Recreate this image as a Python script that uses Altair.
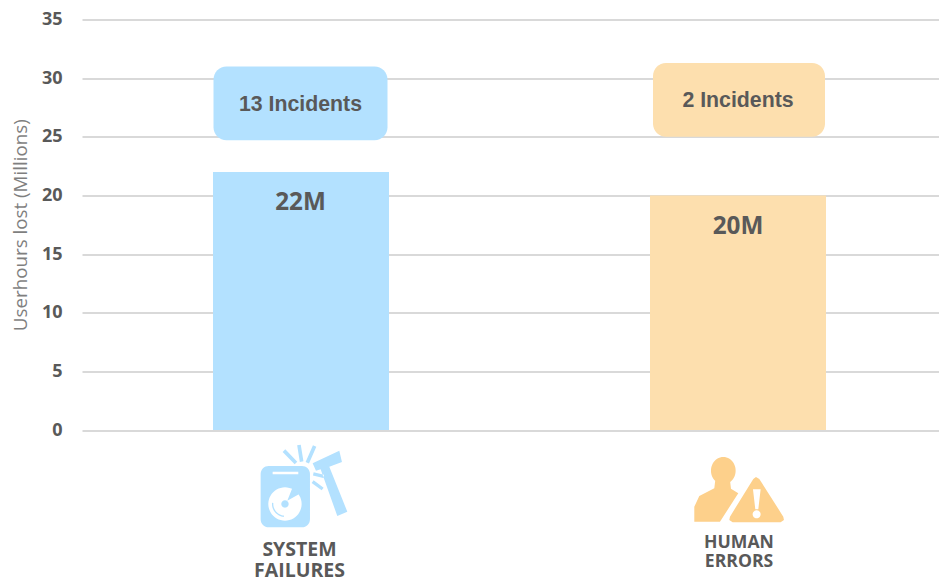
import math
import altair as alt
import pandas as pd

# ---- values ----
categories = ["System Failures", "Human Errors"]
userhours = [22, 20]
bar_start = [131, 568]
bar_end = [307, 744]
bar_colors = ["#b3e1ff", "#fddfae"]
bar_labels = ["22M", "20M"]
bar_label_x = [218.5, 656]
bar_label_y = [19.35, 17.35]

incident_labels = ["13 Incidents", "2 Incidents"]
incident_x = [218.5, 656]
incident_y = [27.67, 28.02]
box_start = [131.5, 571]
box_end = [305.5, 743]
box_low = [24.7, 25.0]
box_high = [31.0, 31.3]

caption_lines = ["SYSTEM", "FAILURES", "HUMAN", "ERRORS"]
caption_x = [217.5, 217.5, 657, 657]
caption_y = [-10.24, -12.03, -9.64, -11.26]
caption_sizes = [19.5, 19.5, 17.6, 17.6]

y_ticks = [0, 5, 10, 15, 20, 25, 30, 35]
x_total = 857
icon_x = [221.3, 661.3]
icon_y = [-4.83, -4.83]


# ---- icon outlines (shape only, in units of the symbol box) ----
def norm(pts):
    return [((x - 220) / 150, (y - 170) / 150) for x, y in pts]


def poly(pts):
    n = norm(pts)
    return "M" + "L".join(f"{x:.4f},{y:.4f}" for x, y in n) + "Z"


def ellipse(cx, cy, rx, ry, a0=0, a1=360, steps=48):
    return [(cx + rx * math.cos(math.radians(a0 + (a1 - a0) * i / steps)),
             cy + ry * math.sin(math.radians(a0 + (a1 - a0) * i / steps))) for i in range(steps + 1)]


def stroke(x0, y0, x1, y1, w):
    dx, dy = x1 - x0, y1 - y0
    d = math.hypot(dx, dy)
    nx, ny = -dy / d * w / 2, dx / d * w / 2
    return [(x0 + nx, y0 + ny), (x1 + nx, y1 + ny), (x1 - nx, y1 - ny), (x0 - nx, y0 - ny)]


def rrect(x0, y0, x1, y1, r):
    p = []
    p += ellipse(x1 - r, y0 + r, r, r, -90, 0, 8)
    p += ellipse(x1 - r, y1 - r, r, r, 0, 90, 8)
    p += ellipse(x0 + r, y1 - r, r, r, 90, 180, 8)
    p += ellipse(x0 + r, y0 + r, r, r, 180, 270, 8)
    return p


def arc_band(cx, cy, r0, r1, a0, a1):
    return ellipse(cx, cy, r1, r1, a0, a1, 16) + ellipse(cx, cy, r0, r0, a1, a0, 16)


hammer = [(248, 100), (328, 62), (336, 96), (298, 110), (352, 245), (322, 258), (272, 118), (258, 122)]
system_base = "".join([
    poly(rrect(92, 108, 240, 292, 24)),
    poly(hammer),
    poly(stroke(162, 62, 198, 99, 11)),
    poly(stroke(207, 45, 215, 95, 11)),
    poly(stroke(254, 48, 232, 98, 11)),
    poly(stroke(250, 132, 281, 139, 10)),
    poly(stroke(248, 155, 278, 177, 10)),
])
system_white = poly(ellipse(165, 222, 50, 50)) + poly(stroke(128, 129, 205, 129, 7))
system_detail = "".join([
    poly(ellipse(165, 222, 11, 11)),
    poly([(172, 212), (188, 172), (208, 192)]),
    poly(arc_band(165, 222, 35, 39, 95, 185)),
])
human_base = "".join([
    poly(ellipse(160, 122, 37, 41)),
    poly([(180, 150), (183, 176), (205, 190), (150, 275), (73, 275), (73, 230), (88, 198), (133, 175), (136, 150)]),
    poly([(250, 147), (258, 141), (268, 147), (340, 260), (342, 270), (332, 277), (188, 277), (178, 270), (180, 260)]),
])
human_white = poly([(249, 178), (272, 178), (265, 238), (256, 238)]) + poly(ellipse(260, 253, 12, 12))

# ---- chart ----
x_scale = alt.Scale(domain=[0, x_total], range=[0, x_total], nice=False, zero=False)
y_scale = alt.Scale(domain=[0, 35], nice=False)
X = alt.X("x:Q", scale=x_scale, axis=None)
Y = alt.Y("y:Q", scale=y_scale)

bars_df = pd.DataFrame({"cat": categories, "x": bar_start, "x2": bar_end, "y": userhours, "c": bar_colors})
bars = alt.Chart(bars_df).mark_bar().encode(
    x=X, x2="x2:Q",
    y=alt.Y("y:Q", scale=y_scale, title="Userhours lost (Millions)",
            axis=alt.Axis(values=y_ticks, grid=True, gridColor="#d9d9d9", gridWidth=2,
                          domain=False, ticks=False, labelPadding=20, labelFont="Open Sans",
                          labelFontWeight="bold", labelFontSize=18, labelColor="#595959",
                          titleFont="Open Sans", titleFontWeight="normal", titleFontSize=18.8,
                          titleColor="#7f7f7f", titlePadding=11)),
    y2=alt.Y2(datum=0),
    color=alt.Color("c:N", scale=None),
)

boxes_df = pd.DataFrame({"x": box_start, "x2": box_end, "y": box_low, "y2": box_high, "c": bar_colors})
boxes = alt.Chart(boxes_df).mark_bar(cornerRadius=13).encode(
    x=X, x2="x2:Q", y=Y, y2="y2:Q", color=alt.Color("c:N", scale=None))

inc_df = pd.DataFrame({"x": incident_x, "y": incident_y, "t": incident_labels})
inc = alt.Chart(inc_df).mark_text(font="Liberation Sans", fontWeight="bold", fontSize=21.3,
                                  color="#595959", baseline="middle", align="center").encode(x=X, y=Y, text="t:N")

val_df = pd.DataFrame({"x": bar_label_x, "y": bar_label_y, "t": bar_labels})
vals = alt.Chart(val_df).mark_text(font="Open Sans", fontWeight="bold", fontSize=24.3,
                                   color="#595959", baseline="middle", align="center").encode(x=X, y=Y, text="t:N")

cap_df = pd.DataFrame({"x": caption_x, "y": caption_y, "t": caption_lines, "s": caption_sizes})
caps = alt.Chart(cap_df).mark_text(font="Open Sans", fontWeight="bold", color="#595959",
                                   baseline="middle", align="center").encode(
    x=X, y=Y, text="t:N", size=alt.Size("s:Q", scale=None))


def icon(i, path, color):
    df = pd.DataFrame({"x": [icon_x[i]], "y": [icon_y[i]]})
    return alt.Chart(df).mark_point(shape=path, filled=True, size=10000, color=color,
                                    opacity=1, strokeWidth=0).encode(x=X, y=Y)


chart = alt.layer(
    bars, boxes, inc, vals, caps,
    icon(0, system_base, "#b3e1ff"), icon(0, system_white, "#ffffff"), icon(0, system_detail, "#b3e1ff"),
    icon(1, human_base, "#fdd08b"), icon(1, human_white, "#ffffff"),
).properties(
    width=x_total, height=410.5,
    autosize=alt.AutoSizeParams(type="none"),
    padding={"left": 74, "top": 11.5, "right": 0, "bottom": 150},
).configure_view(stroke=None)

chart.save("out.html", embed_options={"renderer": "svg", "actions": False})
